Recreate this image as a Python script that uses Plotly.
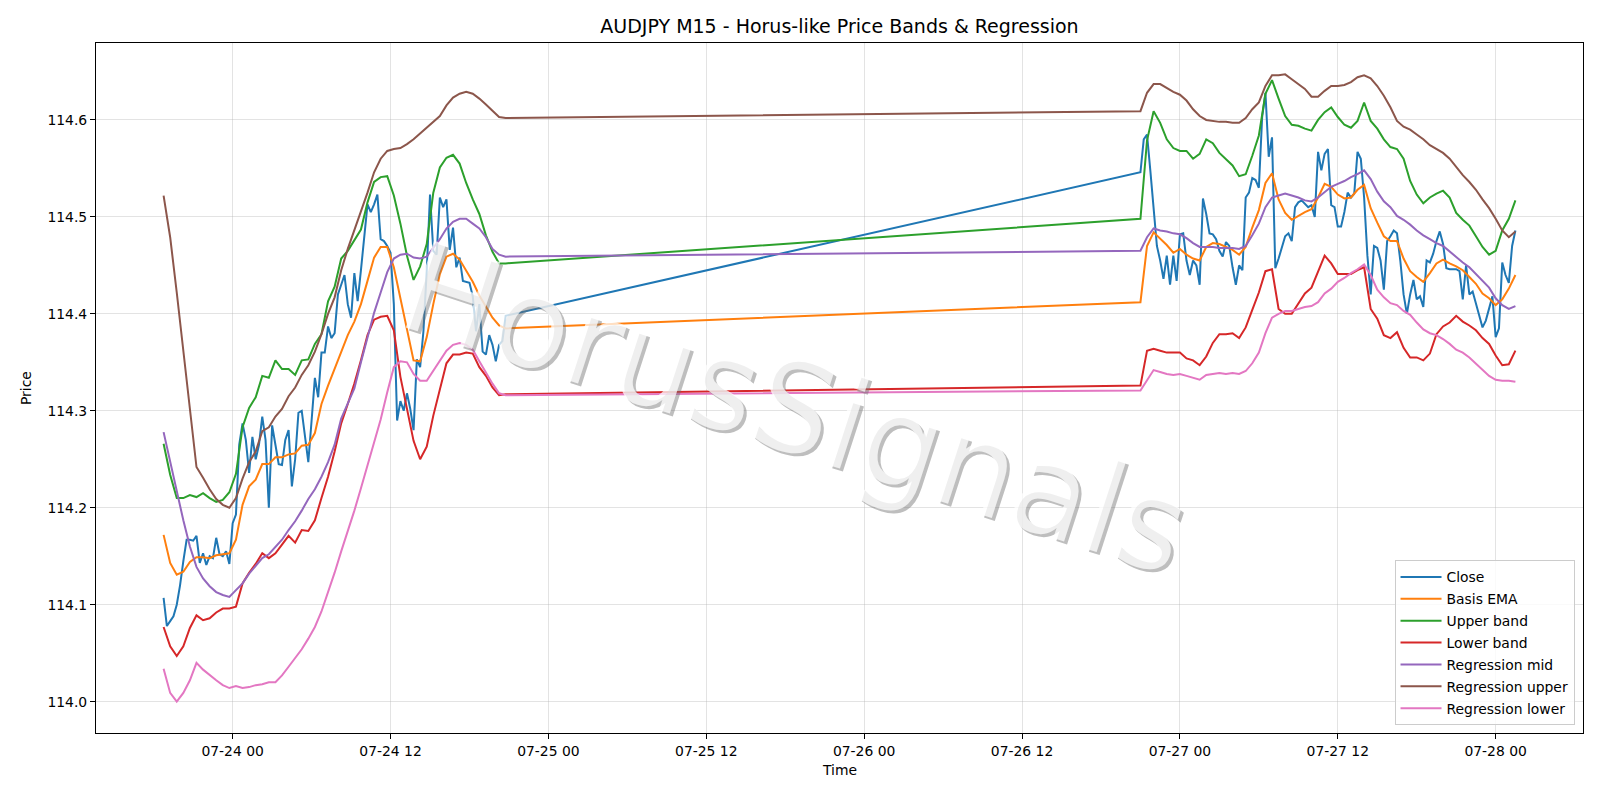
import pandas as pd
import plotly.graph_objects as go

SEG1_START = "2026-07-23 18:45"
SEG2_START = "2026-07-26 21:00"

# Close (every 15-minute bar)
close_seg1 = [
    114.107, 114.078, 114.083, 114.088, 114.100, 114.120, 114.145, 114.167, 114.167, 114.166,
    114.171, 114.143, 114.153, 114.141, 114.150, 114.148, 114.169, 114.152, 114.150, 114.155,
    114.142, 114.184, 114.193, 114.265, 114.287, 114.270, 114.236, 114.273, 114.250, 114.265,
    114.294, 114.270, 114.200, 114.285, 114.265, 114.245, 114.244, 114.270, 114.280, 114.222,
    114.250, 114.298, 114.300, 114.276, 114.247, 114.290, 114.334, 114.314, 114.360, 114.360,
    114.387, 114.375, 114.380, 114.420, 114.430, 114.440, 114.410, 114.396, 114.442, 114.413,
    114.445, 114.479, 114.513, 114.505, 114.513, 114.523, 114.477, 114.475, 114.470, 114.463,
    114.410, 114.290, 114.310, 114.300, 114.318, 114.302, 114.280, 114.353, 114.345, 114.382,
    114.444, 114.523, 114.465, 114.461, 114.520, 114.510, 114.518, 114.466, 114.489, 114.448,
    114.458, 114.434, 114.433, 114.432, 114.418, 114.382, 114.410, 114.361, 114.358, 114.378,
    114.368, 114.351, 114.368, 114.372, 114.398,
]
close_seg2 = [
    114.546, 114.580, 114.585, 114.548, 114.510, 114.470, 114.455, 114.436, 114.460, 114.430,
    114.460, 114.434, 114.482, 114.483, 114.455, 114.440, 114.455, 114.450, 114.430, 114.519,
    114.503, 114.483, 114.482, 114.477, 114.465, 114.459, 114.474, 114.470, 114.448, 114.430,
    114.450, 114.445, 114.520, 114.525, 114.540, 114.538, 114.530, 114.603, 114.628, 114.562,
    114.582, 114.447, 114.457, 114.470, 114.480, 114.483, 114.475, 114.510, 114.515, 114.517,
    114.514, 114.510, 114.512, 114.500, 114.567, 114.548, 114.565, 114.570, 114.512, 114.510,
    114.490, 114.490, 114.505, 114.525, 114.520, 114.524, 114.567, 114.560, 114.520, 114.460,
    114.420, 114.470, 114.468, 114.455, 114.425, 114.475, 114.480, 114.486, 114.483, 114.455,
    114.420, 114.400, 114.420, 114.435, 114.415, 114.418, 114.407, 114.455, 114.453, 114.462,
    114.475, 114.485, 114.472, 114.447, 114.446, 114.446, 114.446, 114.444, 114.415, 114.450,
    114.420, 114.423, 114.410, 114.400, 114.386, 114.393, 114.405, 114.418, 114.376, 114.385,
    114.453, 114.440, 114.432, 114.470, 114.486,
]

# Indicator series (read every second bar, i.e. every 30 minutes)
ema_seg1 = [
    114.172, 114.143, 114.131, 114.134, 114.144, 114.149, 114.149, 114.148, 114.151, 114.152,
    114.153, 114.167, 114.203, 114.222, 114.229, 114.245, 114.245, 114.252, 114.252, 114.255,
    114.256, 114.264, 114.265, 114.277, 114.307, 114.326, 114.343, 114.360, 114.378, 114.392,
    114.410, 114.434, 114.458, 114.469, 114.469, 114.448, 114.417, 114.385, 114.352, 114.351,
    114.376, 114.410, 114.441, 114.459, 114.462, 114.456, 114.445, 114.433, 114.419, 114.407,
    114.396, 114.388, 114.385,
]
ema_seg2 = [
    114.412, 114.470, 114.484, 114.478, 114.471, 114.463, 114.467, 114.461, 114.457, 114.455,
    114.469, 114.473, 114.472, 114.469, 114.466, 114.461, 114.469, 114.489, 114.507, 114.535,
    114.545, 114.518, 114.504, 114.497, 114.501, 114.505, 114.508, 114.520, 114.534, 114.531,
    114.523, 114.519, 114.520, 114.528, 114.533, 114.509, 114.494, 114.480, 114.475, 114.475,
    114.457, 114.444, 114.438, 114.433, 114.442, 114.452, 114.456, 114.452, 114.449, 114.445,
    114.438, 114.431, 114.421, 114.416, 114.409, 114.415, 114.426, 114.440,
]
upper_seg1 = [
    114.266, 114.234, 114.210, 114.210, 114.213, 114.211, 114.215, 114.210, 114.206, 114.208,
    114.216, 114.235, 114.283, 114.303, 114.314, 114.336, 114.334, 114.352, 114.343, 114.343,
    114.337, 114.352, 114.353, 114.369, 114.379, 114.413, 114.428, 114.457, 114.465, 114.476,
    114.487, 114.515, 114.536, 114.541, 114.542, 114.522, 114.493, 114.460, 114.435, 114.449,
    114.472, 114.525, 114.551, 114.561, 114.564, 114.555, 114.535, 114.518, 114.503, 114.481,
    114.464, 114.452, 114.452,
]
upper_seg2 = [
    114.498, 114.579, 114.609, 114.597, 114.580, 114.571, 114.568, 114.568, 114.560, 114.565,
    114.580, 114.576, 114.566, 114.559, 114.553, 114.542, 114.544, 114.563, 114.584, 114.627,
    114.641, 114.622, 114.604, 114.595, 114.594, 114.591, 114.589, 114.600, 114.608, 114.613,
    114.603, 114.595, 114.592, 114.599, 114.618, 114.599, 114.591, 114.580, 114.572, 114.570,
    114.560, 114.537, 114.523, 114.514, 114.520, 114.524, 114.527, 114.520, 114.504, 114.497,
    114.491, 114.480, 114.469, 114.461, 114.465, 114.486, 114.498, 114.517,
]
lower_seg1 = [
    114.077, 114.057, 114.047, 114.057, 114.076, 114.089, 114.084, 114.086, 114.092, 114.096,
    114.096, 114.098, 114.122, 114.133, 114.142, 114.153, 114.148, 114.153, 114.162, 114.171,
    114.164, 114.177, 114.176, 114.187, 114.210, 114.232, 114.258, 114.287, 114.307, 114.328,
    114.352, 114.378, 114.394, 114.397, 114.398, 114.383, 114.335, 114.300, 114.269, 114.250,
    114.263, 114.295, 114.323, 114.349, 114.358, 114.358, 114.360, 114.359, 114.345, 114.336,
    114.324, 114.316, 114.317,
]
lower_seg2 = [
    114.326, 114.362, 114.364, 114.362, 114.360, 114.360, 114.360, 114.354, 114.352, 114.347,
    114.356, 114.370, 114.379, 114.379, 114.380, 114.375, 114.386, 114.404, 114.422, 114.444,
    114.446, 114.405, 114.400, 114.400, 114.410, 114.421, 114.427, 114.444, 114.460, 114.452,
    114.441, 114.441, 114.441, 114.445, 114.448, 114.405, 114.395, 114.378, 114.375, 114.381,
    114.365, 114.355, 114.355, 114.352, 114.359, 114.379, 114.387, 114.391, 114.398, 114.392,
    114.388, 114.383, 114.375, 114.369, 114.357, 114.347, 114.348, 114.362,
]
regmid_seg1 = [
    114.278, 114.248, 114.216, 114.187, 114.160, 114.139, 114.127, 114.119, 114.113, 114.110,
    114.108, 114.115, 114.122, 114.132, 114.140, 114.148, 114.152, 114.159, 114.167, 114.177,
    114.186, 114.197, 114.209, 114.219, 114.232, 114.247, 114.265, 114.292, 114.308, 114.323,
    114.350, 114.376, 114.401, 114.422, 114.443, 114.457, 114.461, 114.462, 114.458, 114.457,
    114.459, 114.468, 114.477, 114.488, 114.495, 114.498, 114.498, 114.493, 114.488, 114.479,
    114.467, 114.461, 114.459,
]
regmid_seg2 = [
    114.465, 114.479, 114.488, 114.486, 114.485, 114.483, 114.482, 114.478, 114.473, 114.469,
    114.469, 114.469, 114.468, 114.468, 114.468, 114.467, 114.470, 114.481, 114.493, 114.510,
    114.520, 114.522, 114.524, 114.522, 114.520, 114.517, 114.516, 114.520, 114.526, 114.531,
    114.534, 114.537, 114.541, 114.544, 114.548, 114.539, 114.526, 114.516, 114.510, 114.501,
    114.497, 114.492, 114.486, 114.481, 114.477, 114.473, 114.470, 114.464, 114.458, 114.453,
    114.448, 114.441, 114.435, 114.427, 114.416, 114.409, 114.405, 114.408,
]
regup_seg1 = [
    114.522, 114.479, 114.422, 114.362, 114.302, 114.242, 114.231, 114.219, 114.209, 114.203,
    114.200, 114.210, 114.230, 114.247, 114.258, 114.279, 114.283, 114.294, 114.302, 114.315,
    114.324, 114.337, 114.347, 114.361, 114.379, 114.400, 114.417, 114.445, 114.467, 114.486,
    114.505, 114.525, 114.546, 114.560, 114.568, 114.570, 114.571, 114.575, 114.580, 114.586,
    114.592, 114.598, 114.604, 114.615, 114.623, 114.627, 114.629, 114.627, 114.622, 114.616,
    114.609, 114.603, 114.602,
]
regup_seg2 = [
    114.609, 114.628, 114.637, 114.637, 114.633, 114.629, 114.626, 114.620, 114.611, 114.604,
    114.600, 114.599, 114.598, 114.598, 114.597, 114.597, 114.602, 114.611, 114.618, 114.635,
    114.646, 114.646, 114.647, 114.642, 114.637, 114.632, 114.624, 114.624, 114.630, 114.635,
    114.635, 114.636, 114.639, 114.644, 114.646, 114.643, 114.635, 114.625, 114.613, 114.599,
    114.593, 114.590, 114.585, 114.580, 114.574, 114.570, 114.566, 114.560, 114.551, 114.543,
    114.536, 114.528, 114.518, 114.509, 114.498, 114.486, 114.479, 114.485,
]
reglo_seg1 = [
    114.034, 114.009, 114.000, 114.009, 114.022, 114.040, 114.033, 114.027, 114.022, 114.017,
    114.014, 114.016, 114.014, 114.015, 114.017, 114.018, 114.020, 114.020, 114.027, 114.036,
    114.045, 114.054, 114.065, 114.077, 114.093, 114.112, 114.133, 114.155, 114.175, 114.197,
    114.220, 114.243, 114.267, 114.291, 114.319, 114.345, 114.351, 114.350, 114.338, 114.331,
    114.331, 114.341, 114.352, 114.362, 114.368, 114.370, 114.368, 114.363, 114.351, 114.339,
    114.328, 114.318, 114.316,
]
reglo_seg2 = [
    114.321, 114.332, 114.342, 114.340, 114.338, 114.337, 114.338, 114.336, 114.334, 114.332,
    114.337, 114.338, 114.339, 114.338, 114.339, 114.338, 114.341, 114.349, 114.360, 114.380,
    114.396, 114.400, 114.403, 114.403, 114.405, 114.407, 114.408, 114.412, 114.421, 114.426,
    114.433, 114.437, 114.442, 114.446, 114.451, 114.440, 114.425, 114.417, 114.411, 114.409,
    114.403, 114.399, 114.391, 114.384, 114.380, 114.378, 114.374, 114.369, 114.363, 114.360,
    114.355, 114.349, 114.342, 114.336, 114.332, 114.331, 114.331, 114.330,
]

SERIES_NAMES = ["Close", "Basis EMA", "Upper band", "Lower band",
                "Regression mid", "Regression upper", "Regression lower"]
COLORS = ["#1f77b4", "#ff7f0e", "#2ca02c", "#d62728", "#9467bd", "#8c564b", "#e377c2"]
TITLE = "AUDJPY M15 - Horus-like Price Bands & Regression"
WATERMARK = "HorusSignals"

t1 = pd.date_range(SEG1_START, periods=len(close_seg1), freq="15min")
t2 = pd.date_range(SEG2_START, periods=len(close_seg2), freq="15min")
close_times = list(t1) + list(t2)
ind_times = list(t1[::2]) + list(t2[::2])

series = [
    (close_times, close_seg1 + close_seg2),
    (ind_times, ema_seg1 + ema_seg2),
    (ind_times, upper_seg1 + upper_seg2),
    (ind_times, lower_seg1 + lower_seg2),
    (ind_times, regmid_seg1 + regmid_seg2),
    (ind_times, regup_seg1 + regup_seg2),
    (ind_times, reglo_seg1 + reglo_seg2),
]

fig = go.Figure()
for k, ((tx, vals), name, col) in enumerate(zip(series, SERIES_NAMES, COLORS)):
    fig.add_trace(go.Scatter(x=tx, y=vals, mode="lines", name=name,
                             legendgroup=f"g{k}",
                             line=dict(color=col, width=2)))

# matplotlib-like 5% margins
t_min, t_max = min(close_times), max(close_times)
span = t_max - t_min
x_range = [t_min - span * 0.05, t_max + span * 0.05]
all_v = [v for _, vals in series for v in vals]
v_min, v_max = min(all_v), max(all_v)
vspan = v_max - v_min
y_range = [v_min - vspan * 0.05, v_max + vspan * 0.05]

FONT = "DejaVu Sans"
grid_col = "rgba(176,176,176,0.35)"

fig.update_layout(
    width=1600, height=800,
    margin=dict(l=96, r=17, t=43, b=67),
    paper_bgcolor="white", plot_bgcolor="white",
    font=dict(family=FONT, size=13.9, color="black"),
    title=dict(text=TITLE,
               x=0.5, xref="paper", xanchor="center",
               y=1 - 26 / 800, yref="container", yanchor="middle",
               font=dict(family=FONT, size=19, color="black")),
    showlegend=True,
    legend=dict(x=0.9943, y=0.011, xanchor="right", yanchor="bottom",
                bgcolor="rgba(255,255,255,0.8)", bordercolor="#cccccc", borderwidth=1,
                font=dict(family=FONT, size=13.9, color="black"),
                tracegroupgap=0.8, itemwidth=41),
)
fig.update_xaxes(
    type="date", range=x_range,
    tick0="2026-07-24 00:00", dtick=12 * 3600 * 1000, tickformat="%m-%d %H",
    showgrid=True, gridcolor=grid_col, gridwidth=1,
    showline=True, mirror=True, linecolor="black", linewidth=1,
    ticks="outside", ticklen=5, tickwidth=1, tickcolor="black",
    zeroline=False,
)
fig.update_yaxes(
    range=y_range, tick0=114.0, dtick=0.1, tickformat=".1f",
    showgrid=True, gridcolor=grid_col, gridwidth=1,
    showline=True, mirror=True, linecolor="black", linewidth=1,
    ticks="outside", ticklen=5, tickwidth=1, tickcolor="black",
    zeroline=False,
)

# axis titles
fig.add_annotation(text="Time", xref="paper", yref="paper", x=0.5, y=-37 / 690,
                   showarrow=False, xanchor="center", yanchor="middle",
                   font=dict(family=FONT, size=13.9, color="black"))
fig.add_annotation(text="Price", xref="paper", yref="paper", x=-70 / 1487.4, y=0.5,
                   showarrow=False, xanchor="center", yanchor="middle", textangle=-90,
                   font=dict(family=FONT, size=13.9, color="black"))

# watermark: grey shadow with a whitish face on top
wm_x, wm_y = (796 - 96) / 1487.4, (733 - 408) / 690
fig.add_annotation(text=WATERMARK, xref="paper", yref="paper", x=wm_x, y=wm_y,
                   xshift=3, yshift=-3,
                   showarrow=False, textangle=18, xanchor="center", yanchor="middle",
                   font=dict(family=FONT, size=125, color="rgba(110,110,110,0.45)"))
fig.add_annotation(text=WATERMARK, xref="paper", yref="paper", x=wm_x, y=wm_y,
                   showarrow=False, textangle=18, xanchor="center", yanchor="middle",
                   font=dict(family=FONT, size=125, color="rgba(255,255,255,0.75)"))

fig.write_html("out.html")
